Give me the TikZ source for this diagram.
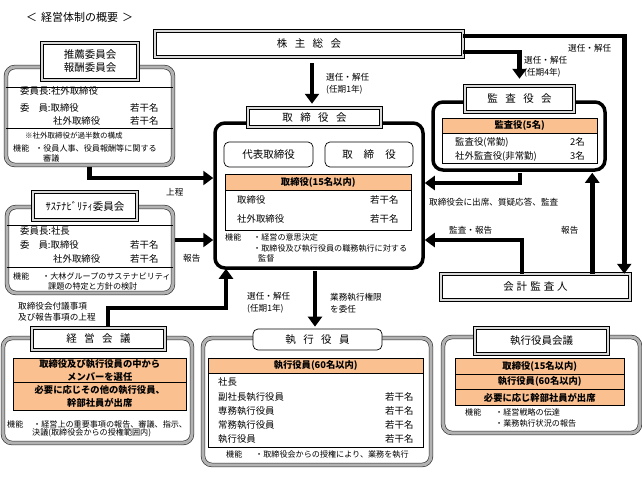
\documentclass[tikz,border=0pt]{standalone}
\usepackage{fontspec}
\setmainfont{Noto Sans CJK JP}
\usetikzlibrary{arrows.meta,calc}
\definecolor{orng}{RGB}{250,192,144}
\newcommand\fbody{\fontsize{9.4}{11}\selectfont}
\newcommand\fsmall{\fontsize{8.1}{10}\selectfont}
\newcommand\ftiny{\fontsize{7.5}{9}\selectfont}
\newcommand\flab{\fontsize{8.6}{12}\selectfont}
\newcommand\ftitle{\fontsize{10.5}{13}\selectfont}
\newcommand\fhdr{\fontsize{9.3}{12.5}\selectfont\bfseries}
\newcommand\gp{\hspace{7.5pt}}
\tikzset{
  bevel/.style={draw=black, line width=0.5pt, double=gray!30, double distance=2.4pt, fill=white, inner sep=0pt},
  hatchbox/.style={draw=black!85, line width=0.6pt, double=gray!60, double distance=3.2pt, rounded corners=9pt, fill=white, inner sep=0pt},
  heavybox/.style={draw=black, line width=3.5pt, rounded corners=10pt, fill=white, inner sep=0pt},
  softbox/.style={draw=black, line width=0.7pt, rounded corners=5pt, fill=white, inner sep=0pt},
  tbl/.style={draw=black, line width=0.5pt, fill=white, inner sep=0pt},
  hdr/.style={draw=black, line width=0.5pt, fill=orng, inner sep=0pt, font=\fhdr, align=center},
  bigarrow/.style={line width=4.5pt, -{Triangle[width=14pt,length=10pt]}},
  txt/.style={anchor=west, inner sep=0pt},
  sm/.style={anchor=west, inner sep=0pt, font=\fsmall},
  lbl/.style={anchor=west, inner sep=0pt, font=\flab, align=left},
}
\begin{document}
\begin{tikzpicture}[x=1pt, y=-1pt, font=\fbody]
\useasboundingbox (0,0) rectangle (642,490);
\fill[white] (0,0) rectangle (642,490);

% title
\node[anchor=west, inner sep=0pt, font=\fontsize{11}{13}\selectfont] (title) at (26,17) {＜\hspace{4pt}経営体制の概要\hspace{4pt}＞};

% ---------- 株主総会
\node[bevel, minimum width=308pt, minimum height=26pt, font=\ftitle] (kabu) at (309,44) {株\gp 主\gp 総\gp 会};

% ---------- 取締役会
\node[heavybox, minimum width=208pt, minimum height=145pt] (bod) at (319,195.5) {};
\node[bevel, minimum width=133pt, minimum height=19pt, font=\ftitle] (bodtitle) at (314.5,117.5) {取\gp 締\gp 役\gp 会};
\node[softbox, minimum width=89pt, minimum height=25pt, font=\ftitle] (daihyo) at (268.5,154.5) {代表取締役};
\node[softbox, minimum width=88pt, minimum height=25pt, font=\ftitle] (tori) at (369,154.5) {取\hspace{11pt}締\hspace{11pt}役};
\node[tbl, anchor=north west, minimum width=186pt, minimum height=56pt] (bodtbl) at (225,174) {};
\node[hdr, anchor=north west, minimum width=186pt, minimum height=16pt] (bodhdr) at (225,174) {取締役(15名以内)};
\node[txt] (b1) at (237,200) {取締役};
\node[txt] (b2) at (370,200) {若干名};
\node[txt] (b3) at (237,219) {社外取締役};
\node[txt] (b4) at (370,219) {若干名};
\node[sm] (b5) at (225,237) {機能};
\node[sm] (b6) at (253,237) {・経営の意思決定};
\node[sm] (b7) at (253,248) {・取締役及び執行役員の職務執行に対する};
\node[sm] (b8) at (258,258) {監督};

% ---------- 監査役会
\node[heavybox, minimum width=172pt, minimum height=68pt] (kansa) at (519,136) {};
\node[bevel, minimum width=109pt, minimum height=26pt, font=\ftitle] (kansatitle) at (519.5,99) {監\gp 査\gp 役\gp 会};
\node[tbl, anchor=north west, minimum width=155pt, minimum height=45pt] (kansatbl) at (442,118) {};
\node[hdr, anchor=north west, minimum width=155pt, minimum height=15pt] (kansahdr) at (442,118) {監査役(5名)};
\node[txt] (k1) at (455,142) {監査役(常勤)};
\node[txt] (k2) at (570,142) {2名};
\node[txt] (k3) at (455,156) {社外監査役(非常勤)};
\node[txt] (k4) at (570,156) {3名};

% ---------- 会計監査人
\node[bevel, minimum width=189pt, minimum height=26pt, font=\ftitle] (kaikei) at (535.5,287) {会\hspace{3pt}計\hspace{3pt}監\hspace{3pt}査\hspace{3pt}人};

% ---------- 推薦委員会・報酬委員会
\node[hatchbox, minimum width=167pt, minimum height=98pt] (suisen) at (89.5,116) {};
\draw[line width=0.5pt] (suisen.west |- 0,87) -- (suisen.east |- 0,87);
\draw[line width=0.5pt] (suisen.west |- 0,128) -- (suisen.east |- 0,128);
\node[bevel, minimum width=96pt, minimum height=37pt, font=\ftitle, align=center] (suititle) at (90,61.5) {推薦委員会\\報酬委員会};
\node[txt] (s1) at (20,91) {委員長:社外取締役};
\node[txt] (s2) at (20,108) {委\hspace{9pt}員:取締役};
\node[txt] (s3) at (130,108) {若干名};
\node[txt] (s4) at (53,121) {社外取締役};
\node[txt] (s5) at (130,121) {若干名};
\node[txt, font=\ftiny] (s6) at (25,136) {※社外取締役が過半数の構成};
\node[sm] (s7) at (13,148) {機能};
\node[sm] (s8) at (35,148) {・役員人事、役員報酬等に関する};
\node[sm] (s9) at (43,158) {審議};

% ---------- サステナビリティ委員会
\node[hatchbox, minimum width=166pt, minimum height=86pt] (sus) at (90,250) {};
\draw[line width=0.5pt] (sus.west |- 0,225) -- (sus.east |- 0,225);
\draw[line width=0.5pt] (sus.west |- 0,267) -- (sus.east |- 0,267);
\node[bevel, minimum width=104pt, minimum height=28pt, font=\ftitle] (sustitle) at (85,206) {ｻｽﾃﾅﾋﾞﾘﾃｨ委員会};
\node[txt] (u1) at (20,231) {委員長:社長};
\node[txt] (u2) at (20,245) {委\hspace{9pt}員:取締役};
\node[txt] (u3) at (130,245) {若干名};
\node[txt] (u4) at (53,259) {社外取締役};
\node[txt] (u5) at (130,259) {若干名};
\node[sm] (u6) at (13,276) {機能};
\node[sm] (u7) at (42,276) {・大林グループのサステナビリティ};
\node[sm] (u8) at (48,286) {課題の特定と方針の検討};

% ---------- 経営会議
\node[hatchbox, minimum width=189pt, minimum height=105pt] (keiei) at (97.5,390.5) {};
\node[bevel, minimum width=133pt, minimum height=22pt, font=\ftitle] (kttitle) at (98.5,339) {経\gp 営\gp 会\gp 議};
\node[hdr, anchor=north west, minimum width=173pt, minimum height=24pt] (kr1) at (13,358) {取締役及び執行役員の中から\\メンバーを選任};
\node[hdr, anchor=north west, minimum width=173pt, minimum height=28pt] (kr2) at (13,382) {必要に応じその他の執行役員、\\幹部社員が出席};
\node[sm] (kk1) at (7,424) {機能};
\node[sm] (kk2) at (33,424) {・経営上の重要事項の報告、審議、指示、};
\node[sm] (kk3) at (32,433) {決議(取締役会からの授権範囲内)};

% ---------- 執行役員
\node[hatchbox, minimum width=228pt, minimum height=127pt] (shikko) at (317,401.5) {};
\node[softbox, minimum width=129pt, minimum height=21pt, font=\ftitle] (shtitle) at (317.5,339.5) {執\gp 行\gp 役\gp 員};
\node[tbl, anchor=north west, minimum width=215pt, minimum height=89pt] (shtbl) at (208,358) {};
\node[hdr, anchor=north west, minimum width=215pt, minimum height=15pt] (shhdr) at (208,358) {執行役員(60名以内)};
\node[txt] (e1) at (218,382) {社長};
\node[txt] (e2) at (218,397) {副社長執行役員};
\node[txt] (e3) at (385,397) {若干名};
\node[txt] (e4) at (218,411) {専務執行役員};
\node[txt] (e5) at (385,411) {若干名};
\node[txt] (e6) at (218,425) {常務執行役員};
\node[txt] (e7) at (385,425) {若干名};
\node[txt] (e8) at (218,439) {執行役員};
\node[txt] (e9) at (385,439) {若干名};
\node[sm] (e10) at (226,454) {機能};
\node[sm] (e11) at (255,454) {・取締役会からの授権により、業務を執行};

% ---------- 執行役員会議
\node[hatchbox, minimum width=197pt, minimum height=96pt] (skk) at (541.5,385) {};
\node[bevel, minimum width=133pt, minimum height=26pt, font=\ftitle] (skktitle) at (541.5,341) {執行役員会議};
\node[hdr, anchor=north west, minimum width=169pt, minimum height=15.67pt] (q1) at (455,358) {取締役(15名以内)};
\node[hdr, anchor=north west, minimum width=169pt, minimum height=15.67pt] (q2) at (455,373.67) {執行役員(60名以内)};
\node[hdr, anchor=north west, minimum width=169pt, minimum height=15.67pt] (q3) at (455,389.33) {必要に応じ幹部社員が出席};
\node[sm] (q4) at (465,412) {機能};
\node[sm] (q5) at (495,412) {・経営戦略の伝達};
\node[sm] (q6) at (495,423) {・業務執行状況の報告};

% ---------- arrows
\coordinate (a1) at ([xshift=3pt]kabu.south);
\draw[bigarrow, shorten <=6pt, shorten >=4pt] (a1) -- (a1 |- bodtitle.north);
\coordinate (a2) at ([yshift=-8pt]kabu.east);
\draw[bigarrow, shorten >=7pt] (a2) -| (kansatitle.north);
\coordinate (a3) at ([yshift=8pt]kabu.east);
\coordinate (a3e) at ([xshift=-6pt]kaikei.north east);
\draw[bigarrow] (a3) -| (a3e);
\coordinate (a4) at ([xshift=1pt]kansa.south);
\coordinate (a4e) at ([yshift=12.5pt]bod.east);
\draw[bigarrow, shorten <=1.5pt] (a4) |- (a4e);
\coordinate (a5) at ([xshift=-13.5pt]kaikei.north);
\coordinate (a5e) at ([yshift=-44.5pt]bod.east);
\draw[bigarrow] (a5) |- (a5e);
\coordinate (a6) at ([xshift=-38pt]kaikei.north east);
\draw[bigarrow, shorten >=1pt] (a6) -- (a6 |- kansa.south);
\coordinate (a7e) at ([yshift=17.5pt]bod.west);
\draw[bigarrow, shorten <=1.5pt] (suisen.south) |- (a7e);
\coordinate (a8) at ([yshift=10pt]sus.east);
\draw[bigarrow, shorten <=1.5pt] (a8) -- (a8 -| bod.west);
\coordinate (a9) at ([xshift=9.5pt]kttitle.north);
\coordinate (a9b) at (226,308);
\draw[bigarrow, shorten <=1.5pt, shorten >=-1pt] (a9) |- (a9b) -- (a9b |- bod.south);
\coordinate (a10) at ([xshift=-4pt]bod.south);
\draw[bigarrow, shorten <=1.5pt, shorten >=2pt] (a10) -- (a10 |- shtitle.north);

% ---------- labels
\node[lbl] (l1) at (326,83.5) {選任・解任\\(任期1年)};
\node[lbl] (l2) at (524,67) {選任・解任\\(任期4年)};
\node[lbl] (l3) at (568,48) {選任・解任};
\node[lbl] (l4) at (429,202) {取締役会に出席、質疑応答、監査};
\node[lbl] (l5) at (449,230) {監査・報告};
\node[lbl] (l6) at (561,230) {報告};
\node[lbl] (l7) at (166,192) {上程};
\node[lbl] (l8) at (183,258) {報告};
\node[lbl, font=\fontsize{8.6}{10.5}\selectfont] (l9) at (18,312) {取締役会付議事項\\及び報告事項の上程};
\node[lbl] (l10) at (247,303) {選任・解任\\(任期1年)};
\node[lbl] (l11) at (330,303) {業務執行権限\\を委任};
\end{tikzpicture}
\end{document}
